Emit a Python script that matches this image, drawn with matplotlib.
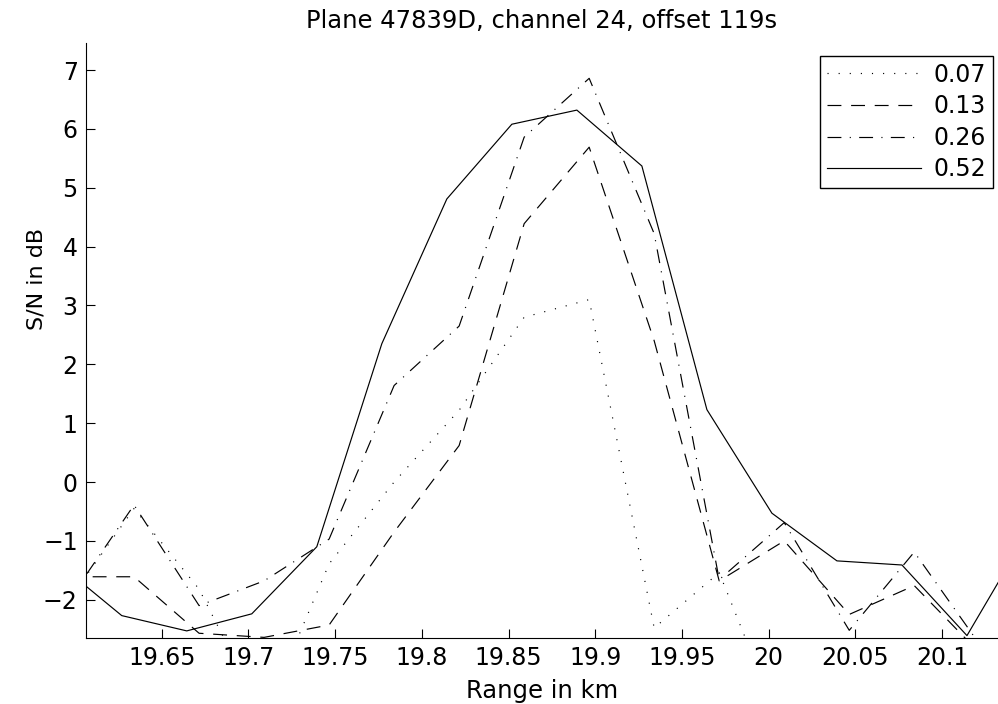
import matplotlib
matplotlib.use("Agg")
import matplotlib.pyplot as plt

plt.rcParams['font.family'] = ['DejaVu Sans']
plt.rcParams['lines.scale_dashes'] = False

# range samples (km) - the 0.52 curve is sampled on a shifted grid
range_a = [19.5965, 19.634, 19.6715, 19.709, 19.7465, 19.784, 19.8215, 19.859,
           19.8965, 19.934, 19.9715, 20.009, 20.0465, 20.084, 20.1215]
range_b = [19.5894, 19.6269, 19.6644, 19.7019, 19.7394, 19.7769, 19.8144, 19.8519,
           19.8894, 19.9269, 19.9644, 20.0019, 20.0394, 20.0769, 20.1144, 20.1519]

snr_007 = [-2.0, -0.45, -1.82, -4.0, -1.39, 0.0, 1.22, 2.80, 3.10, -2.48, -1.54, -4.3]
snr_013 = [-1.61, -1.61, -2.57, -2.64, -2.43, -0.85, 0.62, 4.39, 5.69, 2.4, -1.68,
           -1.0, -2.25, -1.76, -2.9]
snr_026 = [-2.0, -0.39, -2.1, -1.68, -0.97, 1.64, 2.65, 5.86, 6.86, 4.22, -1.66,
           -0.69, -2.52, -1.19, -2.75]
snr_052 = [-1.36, -2.27, -2.53, -2.24, -1.10, 2.35, 4.81, 6.08, 6.32, 5.37, 1.23,
           -0.53, -1.34, -1.41, -2.61, -0.73]

xticks = [19.65, 19.7, 19.75, 19.8, 19.85, 19.9, 19.95, 20.0, 20.05, 20.1]
xtick_labels = ['19.65', '19.7', '19.75', '19.8', '19.85', '19.9', '19.95', '20', '20.05', '20.1']
yticks = [-2, -1, 0, 1, 2, 3, 4, 5, 6, 7]

fig = plt.figure(figsize=(9.98, 7.04), dpi=100)
ax = fig.add_axes([0.0862, 0.0938, 0.9138, 0.8451])

lw = 0.85
ax.plot(range_a[:len(snr_007)], snr_007, color='black', lw=lw, linestyle=(0, (0.8, 7.2)), label='0.07')
ax.plot(range_a, snr_013, color='black', lw=lw, linestyle=(0, (10, 7)), label='0.13')
ax.plot(range_a, snr_026, color='black', lw=lw, linestyle=(0, (10, 6, 0.8, 6)), label='0.26')
ax.plot(range_b, snr_052, color='black', lw=lw, linestyle='-', label='0.52')

ax.set_xlim(19.6063, 20.1323)
ax.set_ylim(-2.65, 7.46)
ax.set_xticks(xticks)
ax.set_xticklabels(xtick_labels)
ax.set_yticks(yticks)

ax.spines['top'].set_visible(False)
ax.spines['right'].set_visible(False)
ax.tick_params(direction='in', length=6.5, width=0.8, labelsize=17, pad=6)

ax.set_title('Plane 47839D, channel 24, offset 119s', fontsize=17.5, pad=11)
ax.set_xlabel('Range in km', fontsize=17.5, labelpad=6)
ax.set_ylabel('S/N in dB', fontsize=16)
ax.yaxis.set_label_coords(-0.043, 0.603)

leg = ax.legend(loc='upper right', bbox_to_anchor=(0.994, 0.978), borderaxespad=0,
                fontsize=17, handlelength=4.0, handletextpad=0.5, labelspacing=0.32,
                borderpad=0.28, fancybox=False, framealpha=1, edgecolor='black')
leg.get_frame().set_linewidth(1.0)

fig.savefig('out.png', dpi=100)
